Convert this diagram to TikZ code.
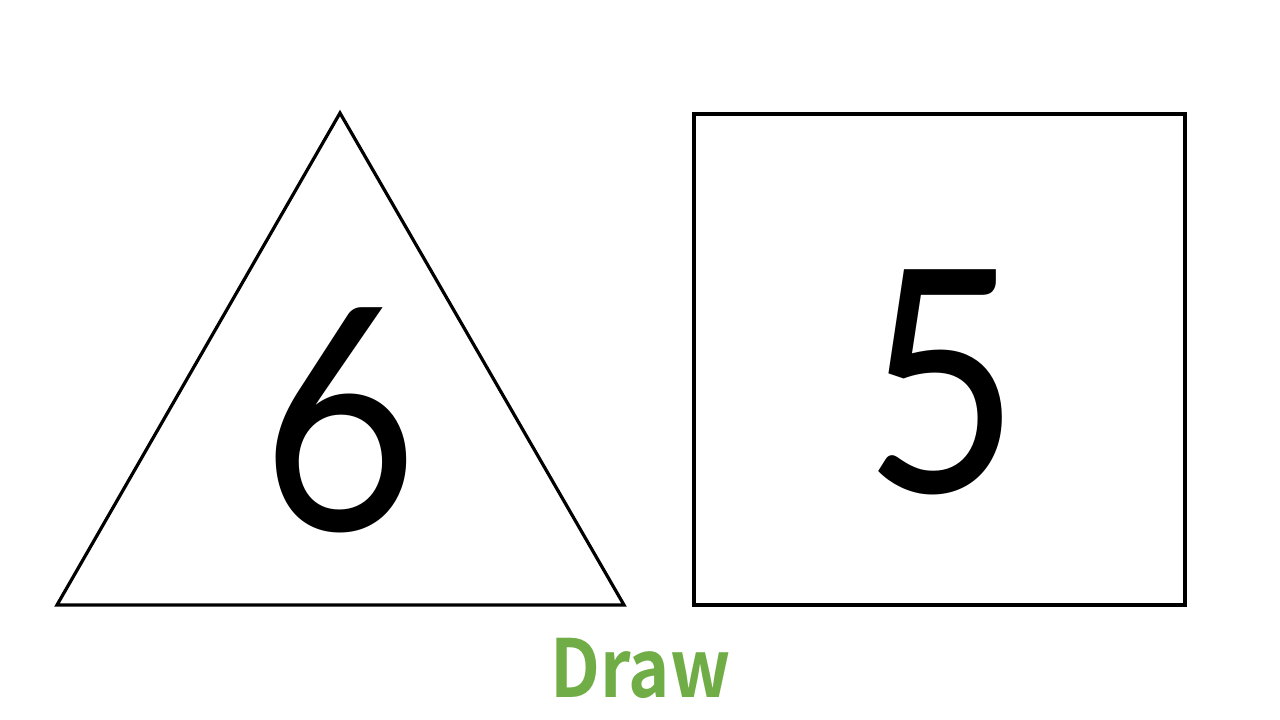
\documentclass[tikz,border=0pt]{standalone}
\usepackage{fontspec}
\newfontfamily\digitfont{Lato}
\newfontfamily\labelfont{Noto Sans CJK SC}[BoldFont={* Bold}]
\definecolor{drawgreen}{RGB}{112,173,71}
\tikzset{
  shapeline/.style={draw=black, line width=3.2pt, line join=miter},
  digit/.style={anchor=base, inner sep=0pt, xscale=0.87, font=\digitfont\fontsize{311}{311}\selectfont},
  caption/.style={anchor=base, inner sep=0pt, xscale=0.875, text=drawgreen, font=\labelfont\bfseries\fontsize{80}{80}\selectfont}
}
\begin{document}
\begin{tikzpicture}[x=1pt,y=-1pt]
\useasboundingbox (0,0) rectangle (1280,720);
\coordinate (tA) at (340,113);
\coordinate (tB) at (57,605);
\coordinate (tC) at (624,605);
\draw[shapeline] (tA) -- (tB) -- (tC) -- cycle;
\draw[shapeline] (694,114) rectangle (1185,605);
\node[digit] (six) at (340,530) {6};
\node[digit] (five) at (942,492) {5};
\node[caption] (cap) at (640.5,697) {Draw};
\end{tikzpicture}
\end{document}
